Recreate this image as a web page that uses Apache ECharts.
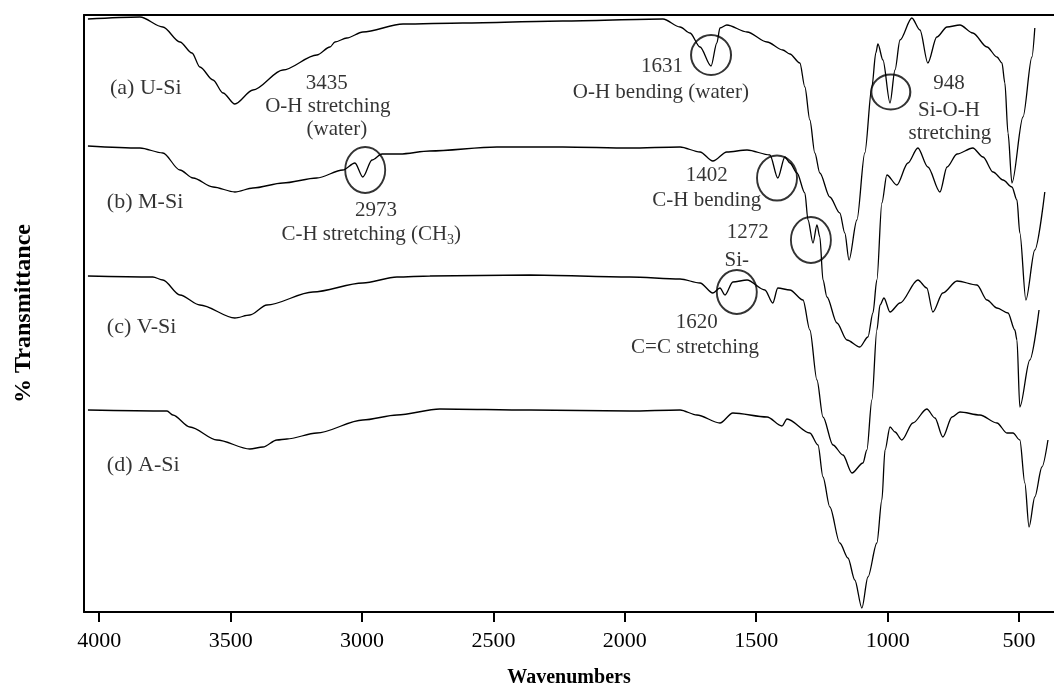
<!DOCTYPE html>
<html><head><meta charset="utf-8">
<script src="https://cdn.jsdelivr.net/npm/echarts@6/dist/echarts.min.js"></script>
<style>html,body{margin:0;padding:0;background:#fff}#c{width:1054px;height:693px}</style>
</head><body><div id="c"></div>
<script>
// ---- data (wavenumber in cm-1, transmittance in arbitrary offset units) ----
const tickLabels = [4000, 3500, 3000, 2500, 2000, 1500, 1000, 500];

const waveA = [4043,3845,3758,3693,3647,3617,3567,3529,3484,3415,3301,3172,3122,3103,3058,2997,2844,2616,2236,1855,1790,1752,1714,1672,1650,1638,1612,1535,1459,1399,1372,1334,1315,1296,1277,1258,1220,1182,1163,1147,1117,1087,1060,1045,1037,1018,991,972,953,908,877,847,813,774,725,676,622,584,565,554,542,527,485,451,440];
const transA = [593,595,585,570,559,545,532,519,508,522,542,557,565,570,574,580,588,589,591,593,585,579,565,546,569,584,587,580,570,562,558,549,525,492,459,439,415,399,379,352,392,459,525,559,568,552,509,542,572,594,582,549,575,585,587,579,565,555,549,529,479,429,495,555,584];

const waveB = [4043,3845,3758,3693,3643,3567,3484,3415,3301,3172,3073,3027,2997,2962,2924,2856,2742,2487,2236,1981,1790,1714,1665,1612,1535,1448,1418,1391,1372,1345,1315,1303,1284,1269,1258,1246,1231,1193,1155,1106,1075,1056,1041,1022,1003,965,923,885,847,801,774,736,676,637,599,561,527,508,497,474,440,402];
const transB = [466,464,459,442,434,425,420,424,429,434,442,449,435,452,458,458,461,465,465,464,465,460,451,460,462,457,434,455,449,439,419,392,369,387,375,332,315,289,272,265,275,299,332,409,437,427,449,464,445,420,445,458,464,455,440,432,425,412,379,312,362,420];

const waveC = [4043,3796,3758,3693,3617,3484,3427,3362,3187,2997,2867,2742,2361,1981,1790,1714,1665,1638,1619,1589,1535,1467,1437,1418,1372,1322,1296,1269,1246,1208,1170,1136,1094,1079,1060,1041,1029,1014,991,953,885,851,828,790,736,660,622,584,542,516,508,497,459,424];
const transC = [336,335,332,317,307,294,297,307,320,329,335,336,337,335,333,329,319,324,317,330,332,322,309,324,322,312,282,232,195,167,157,139,149,162,212,282,307,314,300,309,332,324,300,319,331,327,312,304,299,282,272,205,252,302];

const waveD = [4043,3742,3720,3655,3552,3427,3377,3324,3286,3172,2997,2867,2704,2361,1981,1790,1726,1638,1589,1459,1402,1383,1296,1265,1246,1220,1182,1151,1125,1098,1075,1041,1022,1010,991,972,946,904,851,820,790,755,725,649,584,546,523,497,478,462,440,413,390];
const transD = [202,201,197,185,172,163,165,172,173,179,192,197,203,202,201,202,197,189,199,195,186,193,179,167,135,105,69,54,32,4,35,69,112,162,185,180,172,189,203,194,175,195,200,197,189,179,179,172,129,85,115,145,172];

const curveNames = ['(a) U-Si', '(b) M-Si', '(c) V-Si', '(d) A-Si'];
const curveNameWn = [3959, 3971, 3971, 3971];
const curveNameT = [524, 410, 285, 147];

const annotText = ['3435', 'O-H stretching', '(water)', '1631', 'O-H bending (water)', '948', 'Si-O-H', 'stretching', '2973', 'C-H stretching (CH{s|3})', '1402', 'C-H bending', '1272', 'Si-', '1620', 'C=C stretching'];
const annotWn = [3134, 3130, 3096, 1859, 1863, 767, 767, 763, 2947, 2965, 1688, 1688, 1532, 1574, 1726, 1733];
const annotT = [529, 506, 483, 546, 520, 529, 502, 479, 402, 378, 437, 412, 380, 352, 290, 265];

const circleWn = [1672, 988, 2988, 1421, 1292, 1574];
const circleT = [557, 520, 442, 434, 372, 320];
// ---- style ----
const circleSizes = [[40, 40], [39, 35], [40, 46], [40, 45], [40, 46], [40, 44]];
const FONT = "'Liberation Serif','Times New Roman',serif";

function pairs(xs, ys) { return xs.map((x, i) => [x, ys[i]]); }

const lineSeries = [[waveA, transA], [waveB, transB], [waveC, transC], [waveD, transD]].map(([x, y], i) => ({
  type: 'line', name: curveNames[i], data: pairs(x, y), showSymbol: false, symbol: 'none',
  smooth: 0.3, smoothMonotone: 'x',
  lineStyle: { color: '#000', width: 1.3 }, silent: true, z: 3
}));

const chart = echarts.init(document.getElementById('c'), null, { renderer: 'canvas' });
chart.setOption({
  animation: false,
  backgroundColor: '#fff',
  textStyle: { fontFamily: FONT, color: '#000' },
  grid: { left: 84, right: 0, top: 15, bottom: 81, containLabel: false },
  xAxis: [{
    type: 'value', inverse: true, min: 367, max: 4058,
    splitLine: { show: false },
    axisLine: { show: true, onZero: false, lineStyle: { color: '#000', width: 2 } },
    axisTick: { show: true, inside: false, length: 10, lineStyle: { color: '#000', width: 2 }, customValues: tickLabels },
    axisLabel: { show: true, customValues: tickLabels, formatter: v => String(v), margin: 18, fontSize: 22, fontFamily: FONT, color: '#000' },
    name: 'Wavenumbers', nameLocation: 'middle', nameGap: 56,
    nameTextStyle: { fontSize: 20, fontWeight: 'bold', fontFamily: FONT, color: '#000' }
  }, {
    type: 'value', inverse: true, min: 367, max: 4058, position: 'top',
    splitLine: { show: false }, axisTick: { show: false }, axisLabel: { show: false },
    axisLine: { show: true, onZero: false, lineStyle: { color: '#000', width: 2 } }
  }],
  yAxis: {
    type: 'value', min: 0, max: 597,
    splitLine: { show: false }, axisTick: { show: false }, axisLabel: { show: false },
    axisLine: { show: true, onZero: false, lineStyle: { color: '#000', width: 2 } },
    name: '% Transmittance', nameLocation: 'middle', nameGap: 48,
    nameTextStyle: { fontSize: 24, fontWeight: 'bold', fontFamily: FONT, color: '#000' }
  },
  series: [
    ...lineSeries,
    {
      type: 'scatter', name: 'circles', silent: true, z: 4,
      data: pairs(circleWn, circleT).map((p, i) => ({ value: p, symbolSize: circleSizes[i] })),
      symbol: 'circle',
      itemStyle: { color: 'rgba(0,0,0,0)', borderColor: '#000', borderWidth: 2 }
    },
    {
      type: 'scatter', name: 'curveLabels', silent: true, symbolSize: 0, z: 5,
      data: pairs(curveNameWn, curveNameT).map((p, i) => ({ value: p, label: { formatter: curveNames[i] } })),
      label: { show: true, position: 'inside', align: 'left', verticalAlign: 'middle', fontSize: 22, fontFamily: FONT, color: '#000' }
    },
    {
      type: 'scatter', name: 'annotations', silent: true, symbolSize: 0, z: 5,
      data: pairs(annotWn, annotT).map((p, i) => ({ value: p, label: { formatter: annotText[i] } })),
      label: {
        show: true, position: 'inside', align: 'center', verticalAlign: 'middle', fontSize: 21, fontFamily: FONT, color: '#000',
        rich: { s: { fontSize: 14, fontFamily: FONT, color: '#000', verticalAlign: 'bottom', padding: [12, 0, 0, 0] } }
      }
    }
  ]
});
</script></body></html>
